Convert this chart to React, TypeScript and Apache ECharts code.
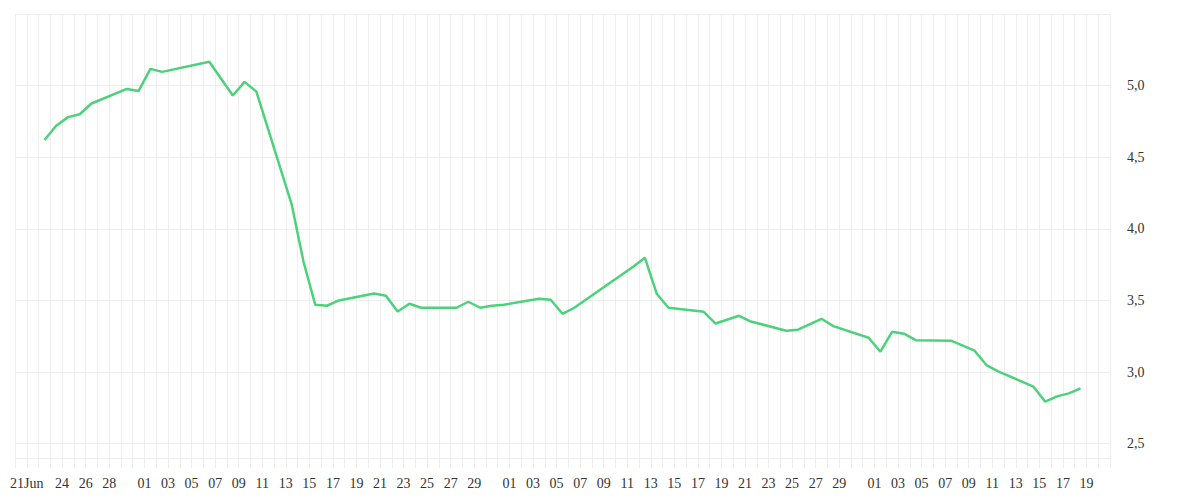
import { useEffect, useRef } from "react";
import * as echarts from "echarts";

// daily readings (MM-DD), plotted at midday
const dates = [
  "06-22", "06-23", "06-24", "06-25", "06-26", "06-29", "06-30",
  "07-01", "07-02", "07-06", "07-08", "07-09", "07-10", "07-13", "07-14",
  "07-15", "07-16", "07-17", "07-20", "07-21", "07-22", "07-23", "07-24",
  "07-27", "07-28", "07-29", "07-30", "07-31",
  "08-03", "08-04", "08-05", "08-06", "08-11", "08-12", "08-13", "08-14",
  "08-17", "08-18", "08-20", "08-21", "08-24", "08-25", "08-27", "08-28",
  "08-31",
  "09-01", "09-02", "09-03", "09-04", "09-07", "09-09", "09-10", "09-11",
  "09-14", "09-15", "09-16", "09-17", "09-18",
];
const values = [
  4.62, 4.72, 4.78, 4.80, 4.875, 4.977, 4.963,
  5.117, 5.096, 5.166, 4.931, 5.026, 4.958, 4.17, 3.772,
  3.47, 3.463, 3.50, 3.549, 3.533, 3.423, 3.477, 3.449,
  3.449, 3.491, 3.449, 3.463, 3.47,
  3.512, 3.505, 3.407, 3.449, 3.735, 3.798, 3.547, 3.449,
  3.421, 3.339, 3.393, 3.353, 3.289, 3.296, 3.372, 3.321,
  3.24,
  3.142, 3.282, 3.268, 3.223, 3.219, 3.149, 3.049, 3.005,
  2.898, 2.793, 2.83, 2.851, 2.886,
];

const xTickDates = [
  "06-21", "06-24", "06-26", "06-28",
  "07-01", "07-03", "07-05", "07-07", "07-09", "07-11", "07-13", "07-15",
  "07-17", "07-19", "07-21", "07-23", "07-25", "07-27", "07-29",
  "08-01", "08-03", "08-05", "08-07", "08-09", "08-11", "08-13", "08-15",
  "08-17", "08-19", "08-21", "08-23", "08-25", "08-27", "08-29",
  "09-01", "09-03", "09-05", "09-07", "09-09", "09-11", "09-13", "09-15",
  "09-17", "09-19",
];
const xTickLabels = [
  "21Jun", "24", "26", "28",
  "01", "03", "05", "07", "09", "11", "13", "15",
  "17", "19", "21", "23", "25", "27", "29",
  "01", "03", "05", "07", "09", "11", "13", "15",
  "17", "19", "21", "23", "25", "27", "29",
  "01", "03", "05", "07", "09", "11", "13", "15",
  "17", "19",
];
const yTickValues = [2.5, 3.0, 3.5, 4.0, 4.5, 5.0];

const START = "06-20";
const END = "09-21";

const dayOf = (md: string) => {
  const [m, d] = md.split("-").map(Number);
  const [m0, d0] = START.split("-").map(Number);
  return Math.round((Date.UTC(2024, m - 1, d) - Date.UTC(2024, m0 - 1, d0)) / 86400000);
};

const FONT = "'Liberation Serif', serif";
const GRID_COLOR = "#eeeeee";

export default function App() {
  const chartRef = useRef<HTMLDivElement>(null);

  useEffect(() => {
    document.body.style.margin = "0";
    if (!chartRef.current) return;
    const chart = echarts.init(chartRef.current, undefined, { renderer: "svg" });

    const labelByDay: Record<number, string> = {};
    xTickDates.forEach((d, i) => {
      labelByDay[dayOf(d)] = xTickLabels[i];
    });

    const seriesData = dates.map((d, i) => [dayOf(d) + 0.5, values[i]]);

    const option: echarts.EChartsOption = {
      animation: false,
      grid: { left: 15, right: 90, top: 14, bottom: 42 },
      xAxis: {
        type: "value",
        min: 0,
        max: dayOf(END),
        interval: 1,
        axisLine: { show: true, lineStyle: { color: GRID_COLOR, width: 1 } },
        axisTick: { show: true, length: 10, lineStyle: { color: GRID_COLOR } },
        splitLine: { show: true, lineStyle: { color: GRID_COLOR, width: 1 } },
        axisLabel: {
          margin: 18,
          color: "#333",
          fontFamily: FONT,
          fontSize: 14,
          showMinLabel: true,
          showMaxLabel: true,
          formatter: (v: number) => labelByDay[Math.round(v)] ?? "",
        },
      },
      yAxis: {
        type: "value",
        position: "right",
        min: 2.4,
        max: 5.5,
        interval: 0.1,
        axisLine: { show: false },
        axisTick: { show: false },
        splitLine: {
          show: true,
          // only every fifth line (the half units) is drawn
          lineStyle: {
            color: ["transparent", GRID_COLOR, "transparent", "transparent", "transparent"],
            width: 1,
          },
        },
        axisLabel: {
          margin: 17,
          color: "#333",
          fontFamily: FONT,
          fontSize: 14,
          formatter: (v: number) =>
            yTickValues.some((t) => Math.abs(t - v) < 1e-6)
              ? v.toFixed(1).replace(".", ",")
              : "",
        },
      },
      series: [
        {
          type: "line",
          data: seriesData,
          showSymbol: false,
          symbol: "none",
          lineStyle: { color: "#4cd27a", width: 2.5 },
          itemStyle: { color: "#4cd27a" },
        },
      ],
    };

    chart.setOption(option);
    return () => {
      chart.dispose();
    };
  }, []);

  return <div ref={chartRef} style={{ width: 1200, height: 500 }} />;
}
